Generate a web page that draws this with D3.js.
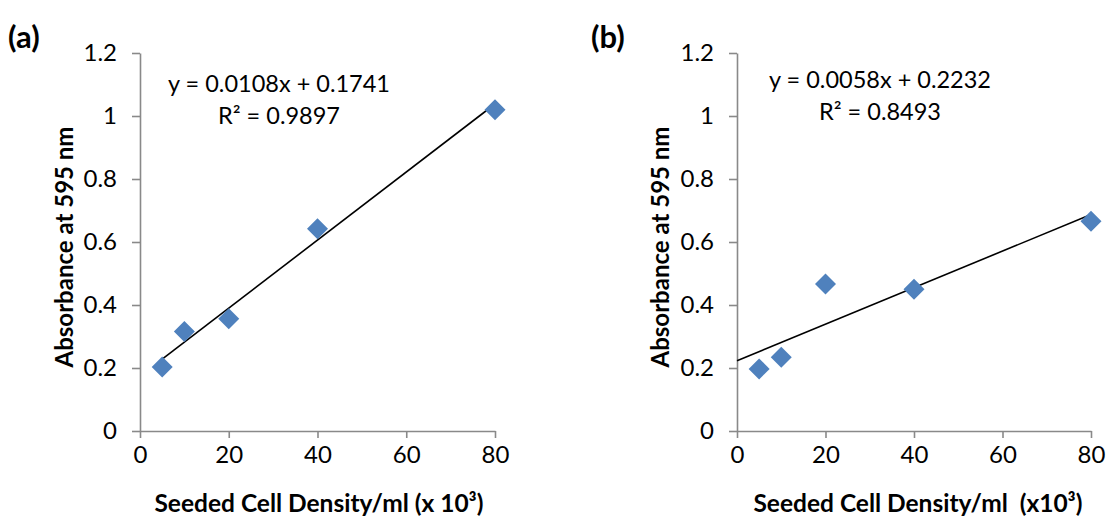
<!DOCTYPE html>
<html>
<head>
<meta charset="utf-8">
<script src="https://cdn.jsdelivr.net/npm/d3@7"></script>
<style>
  body { margin: 0; background: #fff; }
  text { font-family: Lato, "Open Sans", sans-serif; fill: #000; }
  .axis path, .axis line { stroke: #898989; stroke-width: 1.6; }
  .axis text { font-size: 24px; }
</style>
</head>
<body>
<svg id="chart" width="1107" height="517"></svg>
<script>
// seeded cell density (x 10^3 / ml)
var density = [5, 10, 20, 40, 80];

// absorbance at 595 nm, panel (a) and (b)
var absorbA = [0.203, 0.316, 0.356, 0.642, 1.02];
var absorbB = [0.197, 0.234, 0.467, 0.45, 0.666];

// linear fits [slope, intercept] and their start x
var fitA = [0.0108, 0.1741];
var fitB = [0.0058, 0.2232];
var fitStart = [5, 0];

var eqnLabels = ["y = 0.0108x + 0.1741", "y = 0.0058x + 0.2232"];
var r2Labels = ["R\u00b2 = 0.9897", "R\u00b2 = 0.8493"];
var panelLabels = ["(a)", "(b)"];
var xTitles = ["Seeded Cell Density/ml (x 10\u00b3)", "Seeded Cell Density/ml  (x10\u00b3)"];

var xTicks = [0, 20, 40, 60, 80];
var yTicks = [0, 0.2, 0.4, 0.6, 0.8, 1, 1.2];

var svg = d3.select("#chart");

// draws one scatter panel with its trendline
function drawPanel(opt) {
  var x = d3.scaleLinear().domain([0, 80]).range([opt.left, opt.right]);
  var y = d3.scaleLinear().domain([0, 1.2]).range([431, 53]);
  var g = svg.append("g");

  g.append("g")
    .attr("class", "axis")
    .attr("transform", "translate(0,431)")
    .call(d3.axisBottom(x).tickValues(xTicks).tickSize(7).tickPadding(8).tickSizeOuter(0))
    .call(function(a) { a.selectAll("text").attr("fill", "#000"); });

  g.append("g")
    .attr("class", "axis")
    .attr("transform", "translate(" + opt.left + ",0)")
    .call(d3.axisLeft(y).tickValues(yTicks).tickSize(8).tickPadding(15).tickSizeOuter(0)
      .tickFormat(d3.format("~g")))
    .call(function(a) { a.selectAll("text").attr("fill", "#000"); });

  // trendline
  var fit = opt.fit;
  g.append("line")
    .attr("x1", x(opt.fitFrom)).attr("y1", y(fit[0] * opt.fitFrom + fit[1]))
    .attr("x2", x(80)).attr("y2", y(fit[0] * 80 + fit[1]))
    .attr("stroke", "#000").attr("stroke-width", 1.6);

  // diamond markers
  g.selectAll("path.pt")
    .data(opt.values)
    .enter().append("path")
    .attr("class", "pt")
    .attr("d", "M0,-10.5L10.5,0L0,10.5L-10.5,0Z")
    .attr("transform", function(d, i) { return "translate(" + x(density[i]) + "," + y(d) + ")"; })
    .attr("fill", "#4f81bd");

  // equation text
  g.append("text").attr("x", opt.eqX).attr("y", opt.eqY)
    .attr("text-anchor", "middle").style("font-size", "23.5px").text(opt.eqn);
  g.append("text").attr("x", opt.eqX).attr("y", opt.eqY + 32)
    .attr("text-anchor", "middle").style("font-size", "23.5px").text(opt.r2);

  // axis titles
  g.append("text")
    .attr("transform", "translate(" + opt.yTitleX + ",247) rotate(-90)")
    .attr("text-anchor", "middle")
    .style("font-size", "24px").style("font-weight", "bold")
    .text("Absorbance at 595 nm");

  g.append("text")
    .attr("x", opt.xTitleX).attr("y", 512)
    .attr("text-anchor", "middle")
    .attr("xml:space", "preserve").style("white-space", "pre")
    .style("font-size", "24.5px").style("font-weight", "bold")
    .text(opt.xTitle);

  g.append("text").attr("x", opt.labelX).attr("y", 48)
    .style("font-size", "31px").style("font-weight", "bold")
    .text(opt.label);
}

drawPanel({ left: 140, right: 495, values: absorbA, fit: fitA, fitFrom: fitStart[0],
  eqn: eqnLabels[0], r2: r2Labels[0], eqX: 279, eqY: 92, yTitleX: 73, xTitleX: 319,
  xTitle: xTitles[0], label: panelLabels[0], labelX: 8 });

drawPanel({ left: 737, right: 1091, values: absorbB, fit: fitB, fitFrom: fitStart[1],
  eqn: eqnLabels[1], r2: r2Labels[1], eqX: 880, eqY: 88, yTitleX: 669, xTitleX: 918,
  xTitle: xTitles[1], label: panelLabels[1], labelX: 591 });
</script>
</body>
</html>
